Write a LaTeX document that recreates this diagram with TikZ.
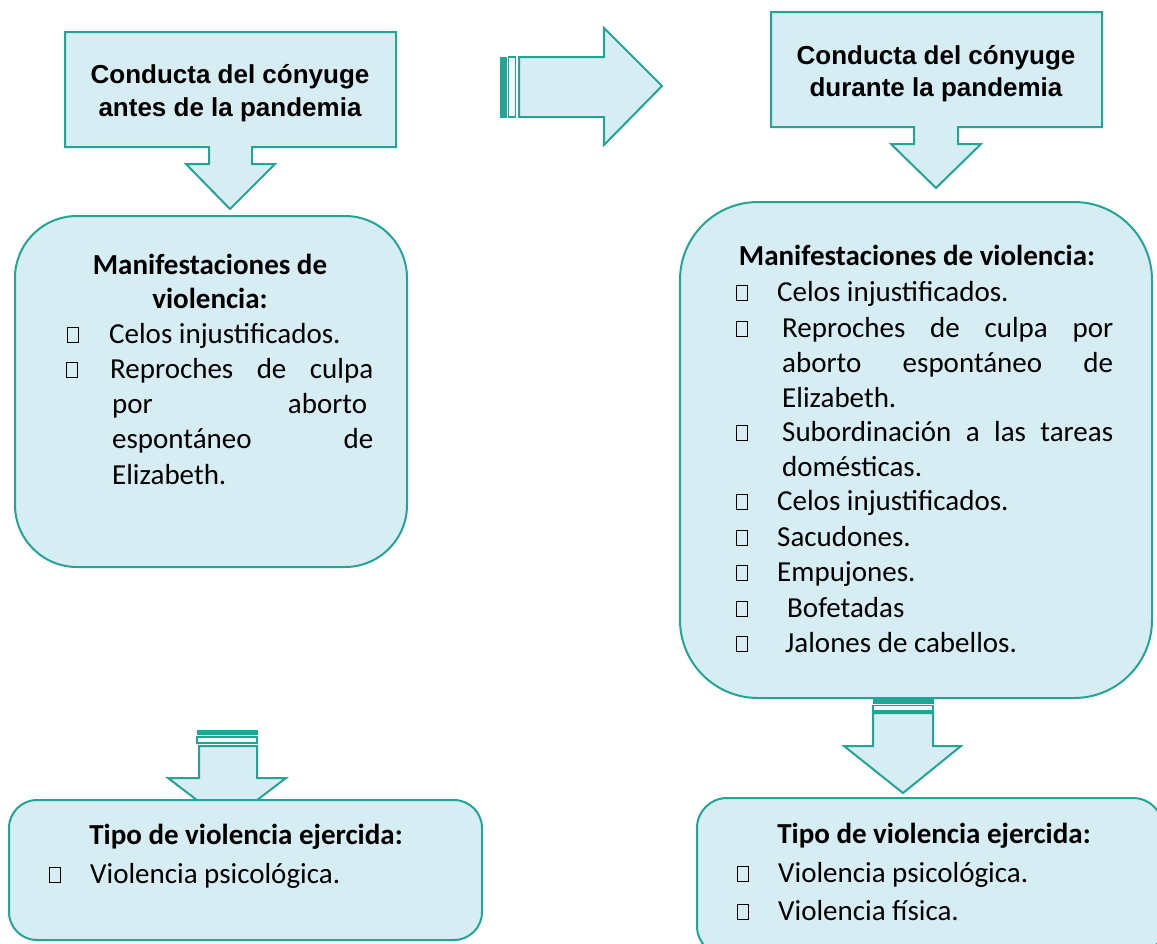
\documentclass[tikz,border=0pt]{standalone}
\usepackage{fontspec}
\setmainfont{Carlito}
\newfontfamily\headfont{Liberation Sans}
\definecolor{boxfill}{RGB}{214,237,243}
\definecolor{tealline}{RGB}{35,165,150}
\tikzset{
  blk/.style={draw=tealline, fill=boxfill, line width=2pt, line join=miter},
  rbox/.style={blk, rectangle, inner sep=0pt},
  bar/.style={fill=tealline, draw=tealline, line width=0.8pt},
  barline/.style={fill=boxfill!40!white, draw=tealline, line width=1.6pt},
  txt/.style={font=\fontsize{29}{35}\selectfont, anchor=base west, inner sep=0pt},
  ttl/.style={font=\fontsize{29}{35}\selectfont\bfseries, anchor=base, inner sep=0pt},
  hd/.style={font=\headfont\bfseries\fontsize{26}{33}\selectfont, anchor=base, inner sep=0pt},
  bul/.style={draw=black, line width=1.4pt, minimum width=11, minimum height=15, inner sep=0pt, anchor=south west}
}
\begin{document}
\begin{tikzpicture}[x=1pt,y=-1pt]
\clip (0,0) rectangle (1157,943);
\fill[white] (0,0) rectangle (1157,943);

% ---- top-left callout
\draw[blk] (65,32) -- (396,32) -- (396,147) -- (252,147) -- (252,164) -- (275,164)
  -- (230,209) -- (186,164) -- (209,164) -- (209,147) -- (65,147) -- cycle;
\node[hd] (h1a) at (230,83) {Conducta del cónyuge};
\node[hd] (h1b) at (230,116) {antes de la pandemia};

% ---- right block arrow
\draw[bar] (500,57) rectangle (506,117);
\draw[barline] (508.5,57) rectangle (515.5,117);
\draw[blk] (519,57) -- (604,57) -- (604,28) -- (662,86) -- (604,145) -- (604,117) -- (519,117) -- cycle;

% ---- top-right callout
\draw[blk] (771,12) -- (1102,12) -- (1102,127) -- (958,127) -- (958,144) -- (981,144)
  -- (936,188) -- (891,144) -- (914,144) -- (914,127) -- (771,127) -- cycle;
\node[hd] (h2a) at (936,64) {Conducta del cónyuge};
\node[hd] (h2b) at (936,96) {durante la pandemia};

% ---- left middle box
\node[rbox, minimum width=392, minimum height=351, rounded corners=62] (ml) at (211,391.5) {};
\node[ttl] (mlt1) at (210,274) {Manifestaciones de};
\node[ttl] (mlt2) at (210,308) {violencia:};
\node[bul] (mlb1) at (67,343) {};
\node[txt] (ml1) at (109,343) {Celos injustificados.};
\node[bul] (mlb2) at (66,378) {};
\node[txt] (ml2) at (110,378) {\makebox[263pt][s]{Reproches de culpa}};
\node[txt] (ml3) at (112,413) {\makebox[255pt][s]{por aborto}};
\node[txt] (ml4) at (112,448) {\makebox[261pt][s]{espontáneo de}};
\node[txt] (ml5) at (112,484) {Elizabeth.};

% ---- right middle box
\node[rbox, minimum width=472, minimum height=496, rounded corners=78] (mr) at (916,450) {};
\node[ttl] (mrt) at (917,265) {Manifestaciones de violencia:};
\node[bul] (mrb1) at (736,301) {};
\node[txt] (mr1) at (777,301) {Celos injustificados.};
\node[bul] (mrb2) at (736,337) {};
\node[txt] (mr2) at (782,337) {\makebox[331pt][s]{Reproches de culpa por}};
\node[txt] (mr3) at (782,372) {\makebox[331pt][s]{aborto espontáneo de}};
\node[txt] (mr4) at (782,407) {Elizabeth.};
\node[bul] (mrb3) at (736,441) {};
\node[txt] (mr5) at (782,441) {\makebox[331pt][s]{Subordinación a las tareas}};
\node[txt] (mr6) at (782,476) {domésticas.};
\node[bul] (mrb4) at (736,510) {};
\node[txt] (mr7) at (777,510) {Celos injustificados.};
\node[bul] (mrb5) at (736,546) {};
\node[txt] (mr8) at (777,546) {Sacudones.};
\node[bul] (mrb6) at (736,581) {};
\node[txt] (mr9) at (777,581) {Empujones.};
\node[bul] (mrb7) at (736,617) {};
\node[txt] (mr10) at (787,617) {Bofetadas};
\node[bul] (mrb8) at (736,652) {};
\node[txt] (mr11) at (785,652) {Jalones de cabellos.};

% ---- bottom-left arrow
\draw[bar] (197,730) rectangle (257,734);
\draw[barline] (197,737) rectangle (257,743);
\draw[blk] (199,746) -- (257,746) -- (257,778) -- (286,778) -- (227,823) -- (168,778) -- (199,778) -- cycle;

% ---- bottom-right arrow
\draw[bar] (873,698) rectangle (933,703);
\draw[barline] (873,705.5) rectangle (933,711);
\draw[blk] (873,713) -- (933,713) -- (933,746) -- (961,746) -- (903,793) -- (844,746) -- (873,746) -- cycle;

% ---- bottom-left box
\node[rbox, minimum width=473, minimum height=140, rounded corners=28] (bl) at (245.5,870) {};
\node[ttl] (blt) at (246,844) {Tipo de violencia ejercida:};
\node[bul] (blb1) at (49,883) {};
\node[txt] (bl1) at (90,883) {Violencia psicológica.};

% ---- bottom-right box
\node[rbox, minimum width=466, minimum height=158, rounded corners=30] (br) at (930,877) {};
\node[ttl] (brt) at (934,843) {Tipo de violencia ejercida:};
\node[bul] (brb1) at (737,882) {};
\node[txt] (br1) at (778,882) {Violencia psicológica.};
\node[bul] (brb2) at (737,920) {};
\node[txt] (br2) at (778,920) {Violencia física.};
\end{tikzpicture}
\end{document}
